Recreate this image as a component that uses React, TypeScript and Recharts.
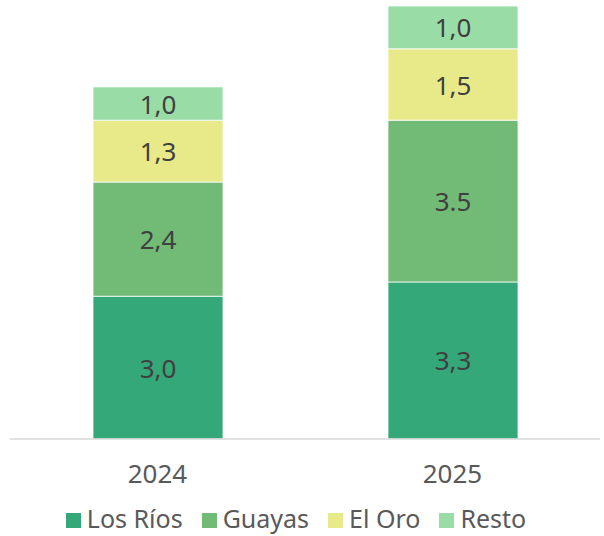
import { Bar, BarChart, LabelList, Legend, XAxis, YAxis } from "recharts";

const years = ["2024", "2025"];

// values
const losRios = [3.0, 3.3];
const guayas = [2.4, 3.4];
const elOro = [1.3, 1.5];
const resto = [0.7, 0.9];

// labels as printed on the chart
const losRiosLabels = ["3,0", "3,3"];
const guayasLabels = ["2,4", "3.5"];
const elOroLabels = ["1,3", "1,5"];
const restoLabels = ["1,0", "1,0"];

const series = [
    { key: "losRios", name: "Los Ríos", color: "#35A87A", labels: losRiosLabels },
    { key: "guayas", name: "Guayas", color: "#72BB77", labels: guayasLabels },
    { key: "elOro", name: "El Oro", color: "#E8EA8A", labels: elOroLabels },
    { key: "resto", name: "Resto", color: "#9ADCA6", labels: restoLabels },
];

const data = years.map((year, i) => ({
    year,
    losRios: losRios[i],
    guayas: guayas[i],
    elOro: elOro[i],
    resto: resto[i],
}));

const FONT = "'Noto Sans', sans-serif";

function SquareLegend() {
    return (
        <div
            style={{
                display: "flex",
                justifyContent: "center",
                alignItems: "center",
                height: 36,
                paddingTop: 4,
                paddingBottom: 4,
                boxSizing: "border-box",
                fontFamily: FONT,
                fontSize: 25,
                lineHeight: "28px",
                color: "#595959",
            }}
        >
            {series.map((s, i) => (
                <div
                    key={s.key}
                    style={{
                        display: "flex",
                        alignItems: "center",
                        marginRight: i < series.length - 1 ? 19 : 0,
                    }}
                >
                    <span
                        style={{
                            display: "inline-block",
                            width: 15,
                            height: 15,
                            background: s.color,
                            marginRight: 6,
                            marginTop: 4,
                        }}
                    />
                    <span>{s.name}</span>
                </div>
            ))}
        </div>
    );
}

export default function App() {
    return (
        <div style={{ position: "absolute", left: 0, top: 0, background: "#fff" }}>
            <BarChart
                width={604}
                height={536}
                data={data}
                margin={{ top: 6, right: 4, left: 10, bottom: 0 }}
            >
                <XAxis
                    dataKey="year"
                    height={61}
                    axisLine={{ stroke: "#D9D9D9", strokeWidth: 1.5 }}
                    tickLine={false}
                    tickMargin={20}
                    tick={{ fill: "#595959", fontSize: 26, fontFamily: FONT }}
                />
                <YAxis hide domain={[0, 9.1]} />
                <Legend
                    verticalAlign="bottom"
                    height={36}
                    content={<SquareLegend />}
                    wrapperStyle={{ left: 0, width: 592 }}
                />
                {series.map((s) => (
                    <Bar
                        key={s.key}
                        dataKey={s.key}
                        name={s.name}
                        stackId="a"
                        fill={s.color}
                        stroke="#FFFFFF"
                        strokeWidth={0.75}
                        barSize={130}
                        isAnimationActive={false}
                    >
                        <LabelList
                            dataKey={s.key}
                            position="center"
                            content={(props: any) => {
                                const { x, y, width, height, index } = props;
                                return (
                                    <text
                                        x={x + width / 2}
                                        y={y + height / 2}
                                        textAnchor="middle"
                                        dominantBaseline="central"
                                        fill="#404040"
                                        fontSize={26}
                                        fontFamily={FONT}
                                    >
                                        {s.labels[index]}
                                    </text>
                                );
                            }}
                        />
                    </Bar>
                ))}
            </BarChart>
        </div>
    );
}
